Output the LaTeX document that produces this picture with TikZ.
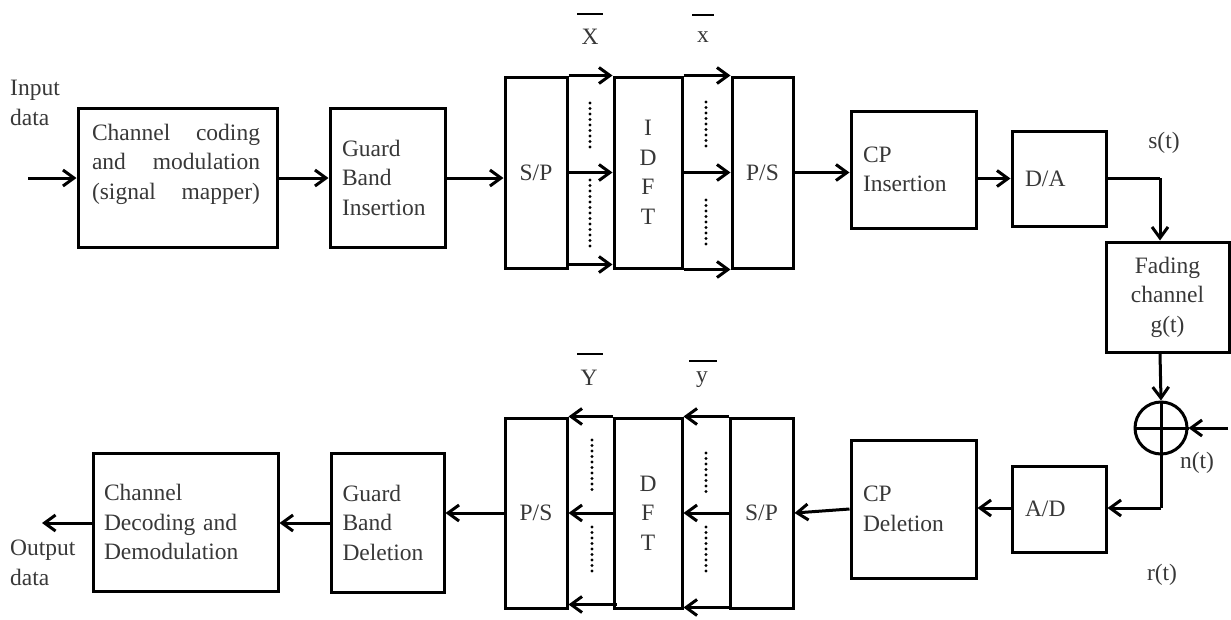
\documentclass[tikz,border=0pt]{standalone}
\usepackage{fontspec}
\setmainfont{Liberation Serif}
\usetikzlibrary{arrows.meta,calc}
\tikzset{
  ln/.style={line width=3pt},
  arr/.style={ln,-{Straight Barb[length=11pt,width=16pt]}},
  dots/.style={line width=3.4pt,line cap=round,dash pattern=on 0pt off 5.5pt},
  blk/.style={draw,ln,inner sep=0pt,font=\fontsize{23.5}{29.5}\selectfont,text=black!78},
  txt/.style={inner sep=0pt,font=\fontsize{23.5}{29.5}\selectfont,text=black!78},
}
\begin{document}
\begin{tikzpicture}[x=1pt,y=-1pt]
\useasboundingbox (0,0) rectangle (1231,619);
% ---------- top row ----------
\node[blk,minimum width=199pt,minimum height=139pt] (b1) at (177.5,177.5) {};
\node[txt,text width=168pt,align=left] (b1t) at (176,164)
  {Channel\hfill coding\\and\hfill modulation\\(signal\hfill mapper)};
\node[blk,minimum width=115pt,minimum height=139pt,text width=91pt,align=left] (g1) at (387.5,177.5) {Guard\\Band\\Insertion};
\node[blk,minimum width=62pt,minimum height=191pt] (sp1) at (536,172.5) {S/P};
\node[blk,minimum width=68pt,minimum height=191pt,align=center] (idft) at (648,172.5) {I\\D\\F\\T};
\node[blk,minimum width=61pt,minimum height=191pt] (ps1) at (762.5,172.5) {P/S};
\node[blk,minimum width=125pt,minimum height=117pt,text width=101pt,align=left] (cpi) at (913.5,169.5) {CP\\Insertion};
\node[blk,minimum width=94pt,minimum height=95pt,text width=68pt,align=left] (da) at (1059,178.5) {D/A};
\node[blk,minimum width=123pt,minimum height=110pt,align=center] (fad) at (1167.5,297) {Fading\\channel\\g(t)};
\node[draw,ln,circle,minimum size=52pt,inner sep=0pt] (sum) at (1161,428) {};
\draw[ln] (sum.north) -- (sum.south) (sum.west) -- (sum.east);
% ---------- bottom row ----------
\node[blk,minimum width=94pt,minimum height=86pt,text width=68pt,align=left] (ad) at (1059,509) {A/D};
\node[blk,minimum width=125pt,minimum height=138pt,text width=101pt,align=left] (cpd) at (913.5,509) {CP\\Deletion};
\node[blk,minimum width=63pt,minimum height=190pt] (sp2) at (761.5,513) {S/P};
\node[blk,minimum width=68pt,minimum height=190pt,align=center] (dft) at (648,513) {D\\F\\T};
\node[blk,minimum width=62pt,minimum height=190pt] (ps2) at (536,513) {P/S};
\node[blk,minimum width=113pt,minimum height=139pt,text width=90pt,align=left] (gbd) at (387.5,522.5) {Guard\\Band\\Deletion};
\node[blk,minimum width=185pt,minimum height=138pt,text width=163pt,align=left] (cdd) at (185.5,522) {Channel\\Decoding and\\Demodulation};
% ---------- labels ----------
\node[txt,align=left,anchor=west] (inl) at (10,103) {Input\\data};
\node[txt,align=left,anchor=west] (outl) at (10,563) {Output\\data};
\node[txt] (sl) at (1164,143) {s(t)};
\node[txt] (nl) at (1197,463) {n(t)};
\node[txt] (rl) at (1162,575) {r(t)};
\node[txt] (Xl) at (590,37) {X};
\node[txt] (xl) at (703,37) {x};
\node[txt] (Yl) at (589,378) {Y};
\node[txt] (yl) at (702,380) {y};
\draw[line width=1.6pt] (577,14) -- (603,14);
\draw[line width=1.6pt] (692,15) -- (714,15);
\draw[line width=1.6pt] (577,354) -- (603,354);
\draw[line width=1.6pt] (689,361) -- (717,361);
% ---------- connectors top ----------
\coordinate (inp) at (28,178);
\draw[arr] (inp) -- (inp -| b1.west);
\draw[arr] (b1.east |- inp) -- (g1.west |- inp);
\draw[arr] (g1.east |- inp) -- (sp1.west |- inp);
\draw[arr] (sp1.north east) -- (idft.north west);
\draw[arr] (sp1.east) -- (idft.west);
\draw[arr] ($(sp1.south east)+(0,-5)$) -- ($(idft.south west)+(0,-5)$);
\draw[arr] (idft.north east) -- (ps1.north west);
\draw[arr] (idft.east) -- (ps1.west);
\draw[arr] (idft.south east) -- (ps1.south west);
\draw[arr] (ps1.east) -- (ps1.east -| cpi.west);
\draw[arr] (cpi.east |- da.west) -- (da.west);
\coordinate (st) at (1160,178);
\draw[ln] (da.east |- st) -- (st);
\draw[arr] (st) -- (st |- fad.north);
\draw[arr] (fad.south -| st) -- (sum.north);
\coordinate (nin) at (1228,428);
\draw[arr] (nin) -- (sum.east);
\coordinate (rt) at (1161,508);
\draw[ln] (sum.south) -- (rt);
\draw[arr] (rt) -- (rt -| ad.east);
% ---------- connectors bottom ----------
\draw[arr] (ad.west |- rt) -- (cpd.east |- rt);
\draw[arr] (cpd.west) -- (sp2.east);
\draw[arr] (sp2.north west) -- (dft.north east);
\draw[arr] (sp2.west) -- (dft.east);
\draw[arr] ($(sp2.south west)+(0,-2)$) -- ($(dft.south east)+(0,-2)$);
\draw[arr] (dft.north west) -- (ps2.north east);
\draw[arr] (dft.west) -- (ps2.east);
\draw[arr] ($(dft.south west)+(4,-5)$) -- ($(ps2.south east)+(0,-5)$);
\draw[arr] (ps2.west) -- (ps2.west -| gbd.east);
\coordinate (od) at (42,523);
\draw[arr] (gbd.west |- od) -- (cdd.east |- od);
\draw[arr] (cdd.west |- od) -- (od);
% ---------- dotted lines ----------
\draw[dots] (590,103) -- (590,150) (590,180) -- (590,247);
\draw[dots] (706,102) -- (706,150) (706,200) -- (706,247);
\draw[dots] (592,440) -- (592,490) (592,527) -- (592,575);
\draw[dots] (706,453) -- (706,493) (706,527) -- (706,575);
\end{tikzpicture}
\end{document}
